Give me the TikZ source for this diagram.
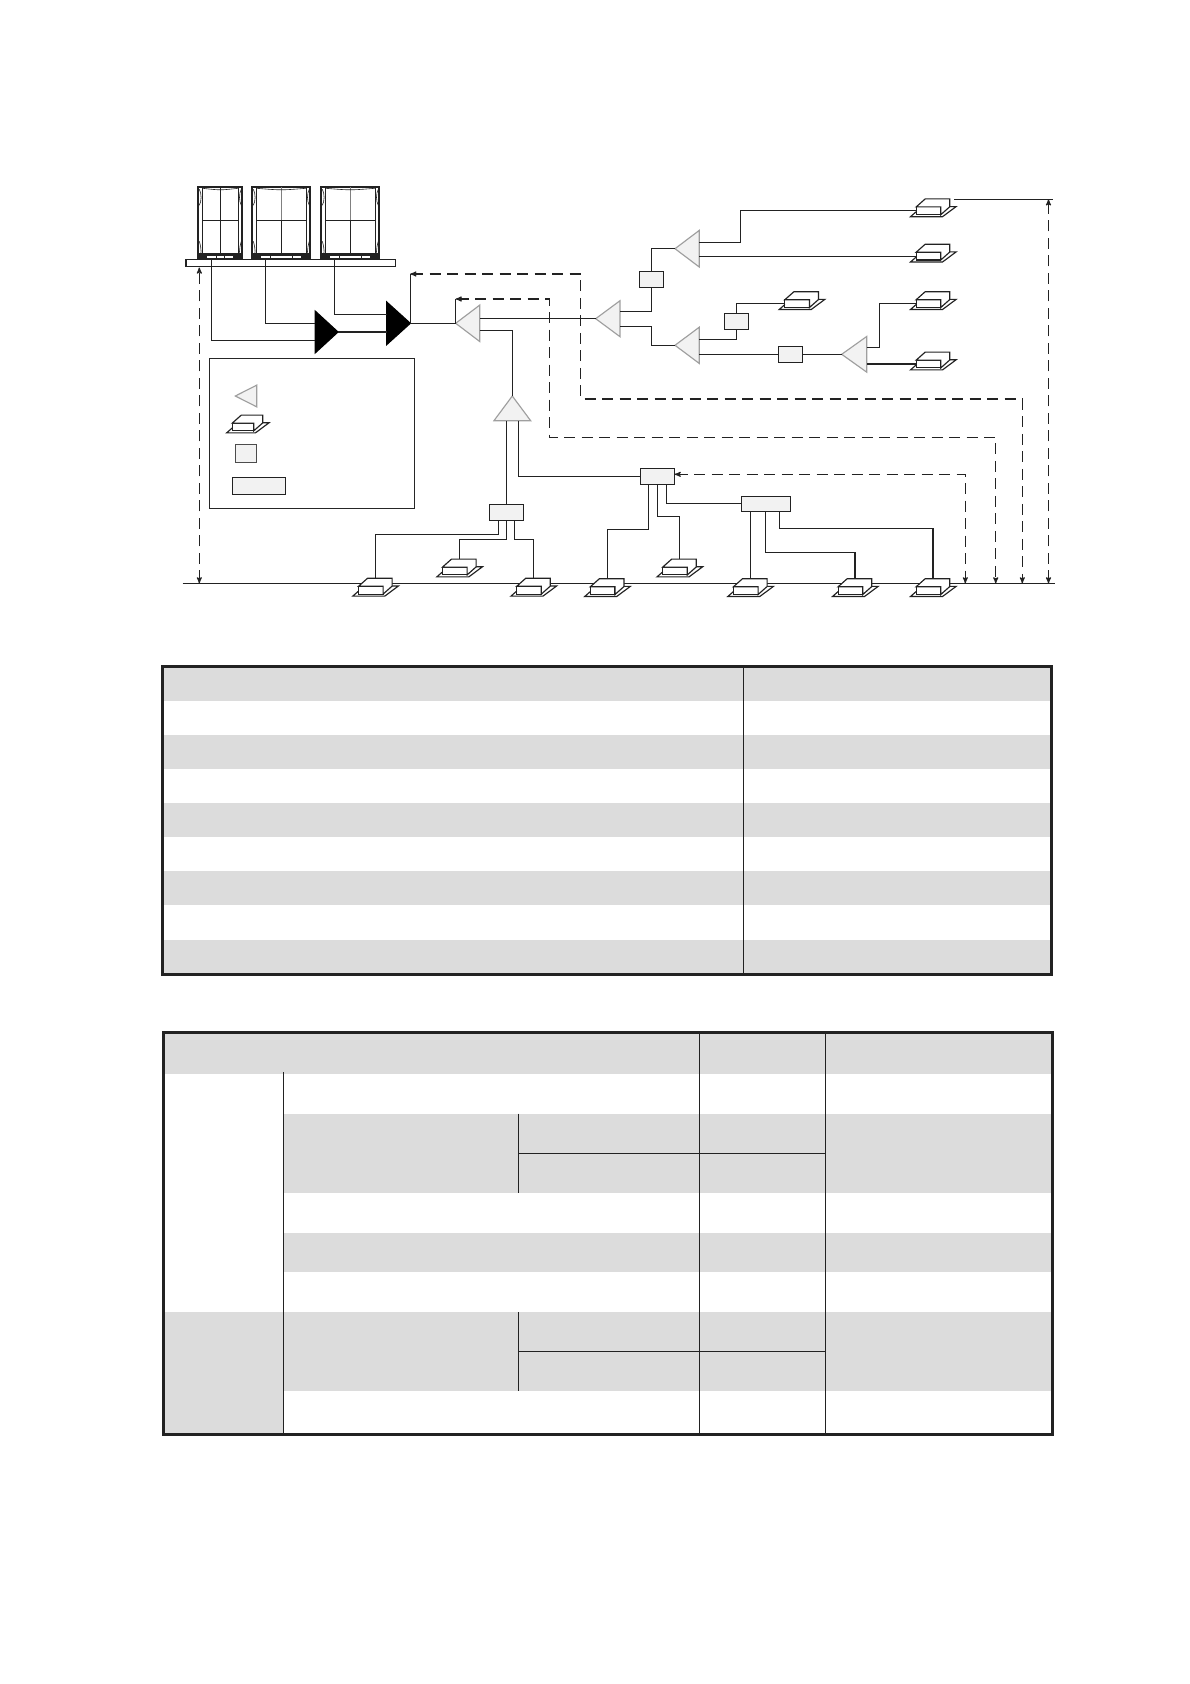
\documentclass[tikz,border=0pt]{standalone}
\usepackage{tikz}
\usetikzlibrary{arrows,shapes.geometric}
\definecolor{linecol}{HTML}{222222}
\definecolor{bandcol}{HTML}{DCDCDC}

\begin{document}
\begin{tikzpicture}[x=1pt,y=-1pt,>=stealth',line width=1.15pt,color=linecol]
  \tikzstyle{plant}=[rectangle,draw,fill=white,line width=1.7pt,minimum height=72pt,inner sep=0pt,outer sep=0pt]
  \tikzstyle{indoor}=[rectangle,draw,fill=white,minimum height=7.8pt,inner sep=0pt,outer sep=0pt]
  \tikzstyle{joint}=[rectangle,draw,fill=gray!10,inner sep=0pt,outer sep=0pt]
  \tikzstyle{branch}=[isosceles triangle,isosceles triangle stretches,draw=gray!75,fill=gray!10,inner sep=0pt,outer sep=0pt,anchor=apex,shape border rotate=180]
  \tikzstyle{solidbranch}=[branch,draw=black,fill=black,shape border rotate=0]
  \tikzstyle{dimline}=[<->,dash pattern=on 11pt off 6.5pt]
  \tikzstyle{rowfill}=[fill=bandcol,draw=none]

  \useasboundingbox (0,0) rectangle (1190,1684);

  % level lines
  \coordinate (gl) at (182.7,583.3);
  \coordinate (gr) at (1055,583.3);
  \coordinate (tl) at (954,199.3);
  \coordinate (tr) at (1053.3,199.3);
  \draw (gl) -- (gr);
  \draw (tl) -- (tr);

  % outdoor units
  \foreach \n/\x/\w/\c in {Pa/220.3/44/linecol,Pb/281.3/58/gray,Pc/350.3/58/gray} {
    \node[plant,minimum width=\w] (\n) at (\x,223.3) {};
    \begin{scope}[shift={(\n.center)}]
      \pgfmathsetmacro\a{\w/2-4.3}
      \pgfmathsetmacro\b{\w/2}
      \draw[line width=1pt] (-\a,-36) -- (-\a,30);
      \draw[line width=1pt] (\a,-36) -- (\a,30);
      \draw (-\a,-3) -- (\a,-3);
      \draw[\c] (0,-36) -- (0,-3);
      \draw (0,-3) -- (0,30);
      \draw[line width=.6pt] (-\a,-35) .. controls (0,-33) .. (\a,-35);
      \foreach \s in {-1,1} {
        \draw[xscale=\s,line width=.6pt] (\b-1,-34) .. controls (\b-3.4,-30) and (\b-3.4,-22) .. (\b-1,-18);
        \draw[xscale=\s,line width=.6pt] (\b-1,35) .. controls (\b-3.4,31) and (\b-3.4,26) .. (\b-1,18);
      }
      \fill (-\b,30) rectangle (\b,36);
      \pgfmathsetmacro\d{\b-17.3}
      \pgfmathsetmacro\e{\b-9}
      \pgfmathsetmacro\f{\b-18.5}
      \fill[white] (-\e,32.4) rectangle (-\d,35);
      \fill[white] (\d,32.4) rectangle (\e,35);
      \fill[white] (-\f,32.4) rectangle (\f,35);
    \end{scope}
  }
  \node[rectangle,draw,fill=white,minimum width=209.7pt,minimum height=7pt,inner sep=0pt,outer sep=0pt] (Pl) at (290.8,262.8) {};

  % legend
  \node[rectangle,draw=gray!30!black,minimum width=205pt,minimum height=150pt,outer sep=0pt] (Lg) at (311.8,433.3) {};
  \node[branch,minimum height=21.4pt,minimum width=21.7pt] (Lt) at (235.3,396) {};
  \node[joint,draw=gray!60!black,minimum width=21.4pt,minimum height=18pt] (Ls) at (246,453.3) {};
  \node[joint,minimum width=53.4pt,minimum height=17pt] (Lr) at (259,485.8) {};

  % indoor units
  \foreach \n/\x/\y/\w in {Ua/370.8/590.2/24.6,Ub/454.8/571/24.6,Uc/529/590.2/24.6,
      Ud/602.7/590.6/24.6,Ue/675/571/24.6,Uf/745.8/590.6/24.6,Ug/850.5/590.6/24.6,Uh/928.5/590.6/24.6,
      Ra/928.5/210.8/24.6,Rb/928.5/256.1/24.6,Rc/928.5/303.6/24.6,Rd/928.5/364/24.6,Re/797.2/303.6/24.6,
      Lu/243/427/21.4} {
    \node[indoor,minimum width=\w] (\n) at (\x,\y) {};
    \draw ([yshift=3]\n.south west) -- ([shift={(-5.7,2)}]\n.south west) -- ([shift={(1.7,2)}]\n.south east)
       -- ([shift={(15.3,-.3)}]\n.north east) -- ([shift={(9,-.3)}]\n.north east);
    \draw[fill=white] (\n.north west) -- ++(9,-8) -- ([shift={(9,-8)}]\n.north east) -- ([shift={(9,-8)}]\n.south east)
       -- (\n.south east) -- (\n.north east) -- cycle;
    \coordinate (\n t) at ([shift={(4.5,-8)}]\n.north);
  }

  % branch joints
  \node[solidbranch,minimum height=22.7pt,minimum width=41.7pt] (Ka) at (338,332) {};
  \node[solidbranch,minimum height=23.6pt,minimum width=42.7pt] (Kb) at (410.3,323.3) {};
  \node[branch,minimum height=24pt,minimum width=36.4pt] (Tg) at (455.7,323.3) {};
  \node[branch,minimum height=24.3pt,minimum width=36pt] (Tm) at (595.7,318.7) {};
  \node[branch,minimum height=24.3pt,minimum width=36.7pt] (Tu) at (675,248.7) {};
  \node[branch,minimum height=24.3pt,minimum width=36.3pt] (Tl) at (675,345.3) {};
  \node[branch,minimum height=25pt,minimum width=35.7pt] (Tr) at (841.7,354.3) {};
  \node[branch,shape border rotate=90,minimum height=24.7pt,minimum width=36.7pt] (Tv) at (512.3,396) {};

  % branch boxes
  \node[joint,minimum width=24.4pt,minimum height=16pt] (Ja) at (651.5,279.3) {};
  \node[joint,minimum width=24pt,minimum height=16pt] (Jb) at (736.3,321.3) {};
  \node[joint,minimum width=24.4pt,minimum height=16pt] (Jc) at (790.5,354.3) {};
  \node[joint,minimum width=34.4pt,minimum height=16pt] (Jd) at (506.5,512.3) {};
  \node[joint,minimum width=34.4pt,minimum height=16.4pt] (Je) at (657.5,476.5) {};
  \node[joint,minimum width=49.4pt,minimum height=15pt] (Jf) at (766,503.8) {};

  % piping
  \draw ([xshift=-9]Pa.south) |- ([yshift=-8.3]Ka.lower side);
  \draw ([xshift=-15.6]Pb.south) |- ([yshift=8.7]Ka.lower side);
  \draw ([xshift=-16]Pc.south) |- ([yshift=9]Kb.lower side);
  \draw (Ka.apex) -- (Ka.apex -| Kb.lower side);
  \draw (Kb.apex) -- (Tg.apex);
  \draw (Tm.apex) -- (Tm.apex -| Tg.lower side);
  \draw ([yshift=-7]Tg.lower side) -| (Tv.apex);

  \draw ([yshift=7.4]Tm.lower side) -| (Ja);
  \draw (Ja) |- (Tu.apex);
  \draw ([yshift=-7.6]Tm.lower side) -- ++(31.3,0) |- (Tl.apex);
  \draw ([yshift=6.4]Tu.lower side) -- ++(41,0) |- (Ra.west);
  \draw (Rb.west) -- (Rb.west -| Tu.lower side);
  \draw ([yshift=6]Tl.lower side) -| (Jb);
  \draw (Jb) |- (Re.west);
  \draw (Jc) -- (Jc -| Tl.lower side);
  \draw (Jc) -- (Tr.apex);
  \draw ([yshift=7]Tr.lower side) -- ++(12.6,0) |- (Rc.west);
  \draw (Rd.west) -- (Rd.west -| Tr.lower side);

  \draw (Jd.north) -- (Jd.north |- Tv.lower side);
  \draw ([xshift=6]Tv.lower side) |- (Je.west);
  \draw ([xshift=-8]Jd.south) -- ++(0,14.4) -| (Uat);
  \draw (Jd.south) -- ++(0,19) -| (Ubt);
  \draw ([xshift=8]Jd.south) -- ++(0,19) -| (Uct);
  \draw ([xshift=-9.2]Je.south) -- ++(0,44.6) -| (Udt);
  \draw (Je.south) -- ++(0,31.6) -| (Uet);
  \draw ([xshift=8.8]Je.south) |- (Jf.west);
  \draw (Uft) -- (Uft |- Jf.south);
  \draw ([xshift=-.7]Jf.south) -- ++(0,41) -| (Ugt);
  \draw ([xshift=13.7]Jf.south) -- ++(0,17) -| (Uht);

  % height arrows
  \coordinate (sa) at (410.3,274);
  \coordinate (sb) at (455.7,299);
  \coordinate (ga) at (1022.3,583.3);
  \coordinate (gb) at (995.7,583.3);
  \coordinate (gc) at (965.3,583.3);
  \coordinate (gd) at (1048.5,583.3);
  \coordinate (td) at (1048.5,199.3);
  \coordinate (ge) at (199.3,583.3);
  \coordinate (te) at (199.3,267.5);
  \draw (Kb.apex) -- (sa);
  \draw (Tg.apex) -- (sb);
  \draw[dimline] (sa) -- ++(170.4,0) -- ++(0,125) -- ++(441.6,0) -- (ga);
  \draw[dimline] (sb) -- ++(93.6,0) -- ++(0,138.3) -- ++(446.4,0) -- (gb);
  \draw[dimline] ([yshift=2.2]Je.east) -| (gc);
  \draw[dimline] (gd) -- (td);
  \draw[dimline] (ge) -- (te);

  % first table
  \foreach \i in {0,2,4,6,8}
    \path[rowfill] (162.5,{666.7+34.1*\i}) rectangle (1051.7,{666.7+34.1*(\i+1)});
  \draw[line width=.8pt] (743.3,666.7) -- (743.3,974);
  \draw[line width=3pt] (162.5,666.7) rectangle (1051.7,974);

  % second table
  \path[rowfill] (163,1032.3) rectangle (1052.7,1073.7);
  \path[rowfill] (283.3,1113.7) rectangle (1052.7,1192.7);
  \path[rowfill] (283.3,1232.7) rectangle (1052.7,1271.7);
  \path[rowfill] (163,1312) rectangle (1052.7,1390.7);
  \path[rowfill] (163,1390.7) rectangle (283.3,1434);
  \draw (283.3,1072) -- (283.3,1434);
  \draw[line width=.9pt] (699.7,1032.3) -- (699.7,1434);
  \draw (825.3,1032.3) -- (825.3,1434);
  \draw (518.3,1113.7) -- (518.3,1192.7);
  \draw (518.3,1312) -- (518.3,1390.7);
  \draw (518.3,1153.3) -- (825.3,1153.3);
  \draw (518.3,1351.7) -- (825.3,1351.7);
  \draw[line width=3pt] (163,1032.3) rectangle (1052.7,1434);
\end{tikzpicture}
\end{document}
